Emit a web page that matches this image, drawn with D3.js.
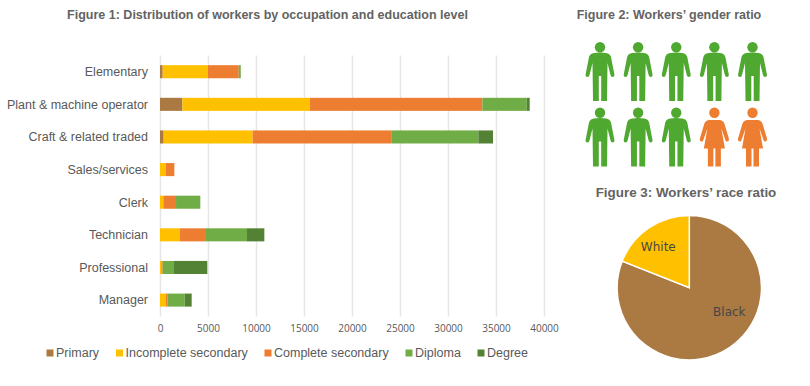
<!DOCTYPE html>
<html>
<head>
<meta charset="utf-8">
<script src="https://cdn.jsdelivr.net/npm/d3@7"></script>
<style>
  html, body { margin: 0; background: #fff; }
  text { font-family: "Liberation Sans", Arial, sans-serif; fill: #595959; }
  .title { font-weight: bold; font-size: 12.5px; fill: #636363; text-anchor: middle; }
  .title.big { font-size: 13.4px; }
  .cat { font-size: 12.5px; text-anchor: end; }
  .leg { font-size: 12.5px; }
  .ax text { font-family: "Open Sans", sans-serif; font-size: 10px; fill: #595959; }
  .ax line { stroke: #e6e6e6; stroke-width: 1.5; }
  .pielabel { font-family: "DejaVu Sans", sans-serif; font-size: 12px; fill: #474747; text-anchor: middle; }
</style>
</head>
<body>
<svg id="chart" width="810" height="386"></svg>
<script>
var occupations = ['Elementary', 'Plant & machine operator', 'Craft & related traded', 'Sales/services', 'Clerk', 'Technician', 'Professional', 'Manager']
var levels = ['Primary', 'Incomplete secondary', 'Complete secondary', 'Diploma', 'Degree']
var primary = [280, 2330, 380, 0, 0, 0, 0, 0]
var incomplete = [4690, 13260, 9270, 625, 350, 2080, 140, 625]
var complete = [3230, 17990, 14500, 870, 1320, 2710, 140, 175]
var diploma = [200, 4620, 9010, 0, 2530, 4270, 1180, 1770]
var degree = [20, 310, 1530, 0, 0, 1810, 3470, 730]
var levelColors = ['#ab7942', '#ffc000', '#ed7d31', '#70ad47', '#548235']
var xTicks = [0, 5000, 10000, 15000, 20000, 25000, 30000, 35000, 40000]

var genders = ['m', 'm', 'm', 'm', 'm', 'm', 'm', 'm', 'f', 'f']
var races = ['Black', 'White']
var raceShares = [81, 19]
var raceColors = ['#ab7942', '#ffc000']

var svg = d3.select('#chart')

/*
    --------------------------------------
    Titles
*/
svg.append('text').attr('class', 'title').attr('x', 267.5).attr('y', 19)
  .text('Figure 1: Distribution of workers by occupation and education level')
svg.append('text').attr('class', 'title').attr('x', 669).attr('y', 19)
  .text('Figure 2: Workers’ gender ratio')
svg.append('text').attr('class', 'title big').attr('x', 686).attr('y', 197)
  .text('Figure 3: Workers’ race ratio')

/*
    --------------------------------------
    Figure 1: stacked bars
*/
var mapx = d3.scaleLinear().domain([0, 40000]).range([160, 544])
var mapy = d3.scaleBand().domain(occupations).range([55.4, 316.4]).paddingInner(0.6).paddingOuter(0.3)

var rows = occupations.map(function (name, i) {
  return {
    name: name,
    Primary: primary[i],
    'Incomplete secondary': incomplete[i],
    'Complete secondary': complete[i],
    Diploma: diploma[i],
    Degree: degree[i]
  }
})
var layers = d3.stack().keys(levels)(rows)

var xAxis = d3.axisBottom(mapx).tickValues(xTicks).tickFormat(d3.format('d')).tickSize(-261).tickPadding(8)

svg.append('g').attr('class', 'ax')
  .attr('transform', 'translate(0,316.5)')
  .call(xAxis)
  .call(function (g) { g.select('.domain').remove() })

svg.append('g').selectAll('g')
  .data(layers)
  .enter().append('g')
  .attr('fill', function (d, i) { return levelColors[i] })
  .selectAll('rect')
  .data(function (d) { return d })
  .enter().append('rect')
  .attr('x', function (d) { return mapx(d[0]) })
  .attr('width', function (d) { return mapx(d[1]) - mapx(d[0]) })
  .attr('y', function (d) { return mapy(d.data.name) })
  .attr('height', mapy.bandwidth())

svg.append('g').selectAll('text')
  .data(occupations)
  .enter().append('text')
  .attr('class', 'cat')
  .attr('x', 148)
  .attr('y', function (d) { return mapy(d) + mapy.bandwidth() / 2 })
  .attr('dy', '0.35em')
  .text(function (d) { return d })

// legend, swatch left edges follow the text widths of the original
var legendX = d3.scaleOrdinal().domain(levels).range([46.5, 116, 264.5, 405.5, 477.5])
var legend = svg.append('g').selectAll('g')
  .data(levels)
  .enter().append('g')
  .attr('transform', function (d) { return 'translate(' + legendX(d) + ',353)' })
legend.append('rect')
  .attr('y', -3.5).attr('width', 7).attr('height', 7)
  .attr('fill', function (d, i) { return levelColors[i] })
legend.append('text')
  .attr('class', 'leg')
  .attr('x', 9.5).attr('dy', '0.35em')
  .text(function (d) { return d })

/*
    --------------------------------------
    Figure 2: pictogram
*/
var manBody = 'M-6,11Q0,10 6,11Q10,11.5 11,15L14.5,33Q14.5,35 12.5,35Q11,35 10.5,33L7.5,21L7,59L1.2,59L1.2,34L-1.2,34L-1.2,59L-7,59L-7.5,21L-10.5,33Q-11,35 -12.5,35Q-14.5,35 -14.5,33L-11,15Q-10,11.5 -6,11Z'
var womanBody = 'M-5,12.5L5,12.5Q8.5,12.5 10,16L14.5,31Q15,33.5 13,34Q11.5,34.5 11,32.5L7,21L10.5,41L6.5,41L6.5,59L1,59L1,41L-1,41L-1,59L-6.5,59L-6.5,41L-10.5,41L-7,21L-11,32.5Q-11.5,34.5 -13,34Q-15,33.5 -14.5,31L-10,16Q-8.5,12.5 -5,12.5Z'

var iconx = d3.scalePoint().domain([0, 1, 2, 3, 4]).range([600, 752.5])
var icony = d3.scalePoint().domain([0, 1]).range([42, 107.5])

var people = svg.append('g').selectAll('g')
  .data(genders)
  .enter().append('g')
  .attr('fill', function (d) { return d === 'm' ? '#4fa82f' : '#ed7d31' })
  .attr('transform', function (d, i) {
    return 'translate(' + iconx(i % 5) + ',' + icony(Math.floor(i / 5)) + ')'
  })
people.append('circle').attr('cy', 5.2).attr('r', 5.2)
people.append('path').attr('d', function (d) { return d === 'm' ? manBody : womanBody })

/*
    --------------------------------------
    Figure 3: pie
*/
var pieGen = d3.pie().sort(null)
var arcGen = d3.arc().innerRadius(0).outerRadius(72.2)
var pieG = svg.append('g').attr('transform', 'translate(689.3,287.7)')

pieG.selectAll('path')
  .data(pieGen(raceShares))
  .enter().append('path')
  .attr('d', arcGen)
  .attr('fill', function (d, i) { return raceColors[i] })
  .attr('stroke', '#fff')
  .attr('stroke-width', 1.5)

var labelOffset = {Black: [40, 24], White: [-31, -41]}
pieG.selectAll('text')
  .data(races)
  .enter().append('text')
  .attr('class', 'pielabel')
  .attr('x', function (d) { return labelOffset[d][0] })
  .attr('y', function (d) { return labelOffset[d][1] })
  .attr('dy', '0.35em')
  .text(function (d) { return d })
</script>
</body>
</html>
